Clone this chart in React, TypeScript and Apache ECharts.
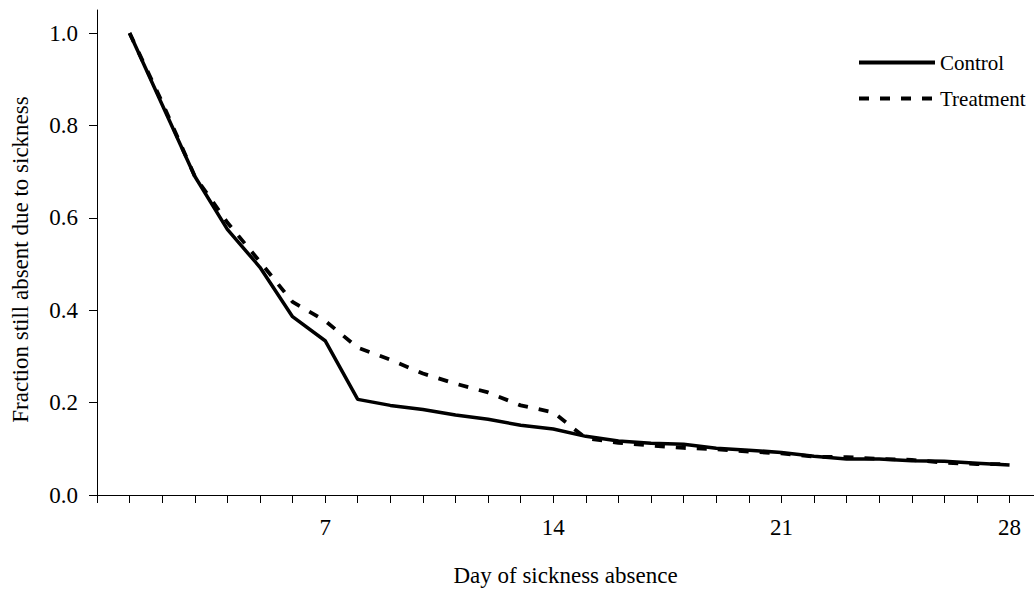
import React, { useEffect, useRef } from "react";
import * as echarts from "echarts";

const days = [1, 2, 3, 4, 5, 6, 7, 8, 9, 10, 11, 12, 13, 14, 15, 16, 17, 18, 19, 20, 21, 22, 23, 24, 25, 26, 27, 28];
const control = [1.0, 0.845, 0.69, 0.575, 0.493, 0.386, 0.334, 0.207, 0.194, 0.185, 0.173, 0.164, 0.151, 0.143, 0.127, 0.117, 0.112, 0.11, 0.101, 0.097, 0.092, 0.084, 0.078, 0.078, 0.074, 0.073, 0.069, 0.065];
const treatment = [1.0, 0.85, 0.69, 0.59, 0.505, 0.418, 0.377, 0.319, 0.293, 0.263, 0.241, 0.222, 0.194, 0.179, 0.123, 0.113, 0.107, 0.102, 0.099, 0.094, 0.09, 0.083, 0.082, 0.078, 0.076, 0.07, 0.067, 0.067];
const xTickValues = [0, 1, 2, 3, 4, 5, 6, 7, 8, 9, 10, 11, 12, 13, 14, 15, 16, 17, 18, 19, 20, 21, 22, 23, 24, 25, 26, 27, 28];
const xLabelValues = [7, 14, 21, 28];
const yTickValues = [0, 0.2, 0.4, 0.6, 0.8, 1.0];

const FONT = "'Liberation Serif', 'Times New Roman', serif";

export default function App() {
  const ref = useRef<HTMLDivElement>(null);
  useEffect(() => {
    if (!ref.current) return;
    const chart = echarts.init(ref.current, null, { renderer: "svg" });
    chart.setOption({
      animation: false,
      backgroundColor: "#fff",
      textStyle: { fontFamily: FONT, color: "#000" },
      grid: { left: 97, right: 0, top: 10, bottom: 95 },
      legend: {
        orient: "vertical",
        left: 857,
        top: 52,
        padding: 0,
        itemWidth: 76,
        itemHeight: 14,
        itemGap: 15,
        itemStyle: { opacity: 0 },
        lineStyle: { width: 4 },
        textStyle: { fontFamily: FONT, fontSize: 21, color: "#000" },
        data: ["Control", "Treatment"],
      },
      xAxis: {
        type: "value",
        min: 0,
        max: 28.75,
        name: "Day of sickness absence",
        nameLocation: "middle",
        nameGap: 69,
        nameTextStyle: { fontFamily: FONT, fontSize: 23, color: "#000" },
        axisLine: { show: true, onZero: false, lineStyle: { color: "#000", width: 1 } },
        axisTick: { show: true, length: 8, lineStyle: { color: "#000" }, customValues: xTickValues },
        axisLabel: {
          customValues: xLabelValues,
          margin: 21,
          fontFamily: FONT,
          fontSize: 23,
          color: "#000",
        },
        splitLine: { show: false },
      },
      yAxis: {
        type: "value",
        min: 0,
        max: 1.05,
        name: "Fraction still absent due to sickness",
        nameLocation: "middle",
        nameGap: 65,
        nameRotate: 90,
        nameTextStyle: { fontFamily: FONT, fontSize: 23, color: "#000", padding: [0, 14, 0, 0] },
        axisLine: { show: true, lineStyle: { color: "#000", width: 1 } },
        axisTick: { show: true, length: 8, lineStyle: { color: "#000" }, customValues: yTickValues },
        axisLabel: {
          customValues: yTickValues,
          margin: 19,
          fontFamily: FONT,
          fontSize: 23,
          color: "#000",
          formatter: (v: number) => v.toFixed(1),
        },
        splitLine: { show: false },
      },
      series: [
        {
          name: "Control",
          type: "line",
          data: days.map((d, i) => [d, control[i]]),
          symbol: "none",
          lineStyle: { color: "#000", width: 3.5, type: "solid" },
          itemStyle: { color: "#000" },
        },
        {
          name: "Treatment",
          type: "line",
          data: days.map((d, i) => [d, treatment[i]]),
          symbol: "none",
          lineStyle: { color: "#000", width: 3.8, type: [10, 11] },
          itemStyle: { color: "#000" },
        },
      ],
    });
    return () => chart.dispose();
  }, []);
  return <div ref={ref} style={{ position: "fixed", left: 0, top: 0, width: 1034, height: 592 }} />;
}
